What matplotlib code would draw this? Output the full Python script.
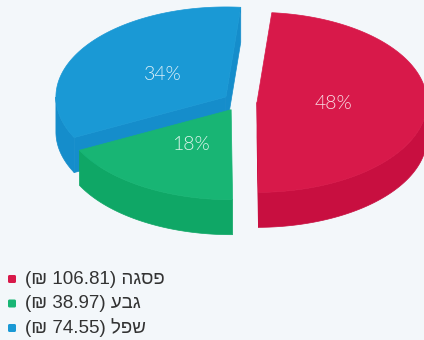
import numpy as np
import matplotlib
matplotlib.use("Agg")
import matplotlib.pyplot as plt
from matplotlib.patches import Polygon, FancyBboxPatch

# data
names = ["פסגה", "גבע", "שפל"]
values = [106.81, 38.97, 74.55]
currency = "₪"

# styling
top_colors = ["#d8194a", "#18b574", "#1a99d5"]
side_colors = ["#c80f40", "#0fa766", "#158dcb"]
bg = "#f3f7fa"

W, H = 424, 340
fig = plt.figure(figsize=(W / 100, H / 100), dpi=100)
fig.patch.set_facecolor(bg)
ax = fig.add_axes([0, 0, 1, 1])
ax.set_xlim(0, W)
ax.set_ylim(H, 0)
ax.axis("off")

# 3D pie geometry (pixels)
cx, cy = 240, 102
rx, ry = 170, 90
depth = 35
sliced_offset = 17
start_angle = 5.0
label_frac = 0.45

total = float(sum(values))
fracs = [v / total for v in values]


def rim(vx, vy, th_deg, dz=0.0):
    th = np.radians(th_deg)
    return np.column_stack([vx + rx * np.sin(th), vy - ry * np.cos(th) + dz])


slices = []
a = start_angle
for i, f in enumerate(fracs):
    a0, a1 = a, a + 360 * f
    m = np.radians((a0 + a1) / 2)
    vx = cx + sliced_offset * np.sin(m)
    vy = cy - sliced_offset * (ry / rx) * np.cos(m)
    slices.append((i, a0, a1, vx, vy))
    a = a1

# back to front
for i, a0, a1, vx, vy in sorted(slices, key=lambda s: s[4]):
    top_c, side_c = top_colors[i], side_colors[i]
    ths = np.linspace(a0, a1, 200)
    # outer rim facing the viewer
    lo, hi = max(a0, 90), min(a1, 270)
    if hi > lo:
        t = np.linspace(lo, hi, 120)
        poly = np.vstack([rim(vx, vy, t), rim(vx, vy, t[::-1], depth)])
        ax.add_patch(Polygon(poly, closed=True, fc=side_c, ec=side_c, lw=0.5, zorder=2))
    # radial faces
    for edge, visible in ((a0, np.sin(np.radians(a0)) < 0), (a1, np.sin(np.radians(a1)) > 0)):
        if visible:
            p = rim(vx, vy, [edge])[0]
            quad = [(vx, vy), p, (p[0], p[1] + depth), (vx, vy + depth)]
            ax.add_patch(Polygon(quad, closed=True, fc=side_c, ec=side_c, lw=0.5, zorder=2))
    # top face
    top = np.vstack([[vx, vy], rim(vx, vy, ths)])
    ax.add_patch(Polygon(top, closed=True, fc=top_c, ec=top_c, lw=0.5, zorder=2))

# percentage labels
for i, a0, a1, vx, vy in slices:
    m = np.radians((a0 + a1) / 2)
    lx = vx + label_frac * rx * np.sin(m)
    ly = vy - label_frac * ry * np.cos(m)
    ax.text(lx, ly, f"{round(fracs[i] * 100)}%", color="white", alpha=0.85,
            fontsize=14, fontweight=300, family=["Lato", "DejaVu Sans"],
            ha="center", va="center", zorder=5)

# legend
leg_x, leg_y0, leg_dy = 12, 279, 24.5
for i, (n, v) in enumerate(zip(names, values)):
    y = leg_y0 + i * leg_dy
    ax.add_patch(FancyBboxPatch((leg_x - 4, y - 4), 8, 8,
                                boxstyle="round,pad=0,rounding_size=1.5",
                                fc=top_colors[i], ec="none", zorder=4))
    label = f"({currency} {v:.2f}) " + n[::-1]
    ax.text(leg_x + 13, y, label, color="#333333", fontsize=13.5,
            family=["Liberation Sans", "DejaVu Sans"], ha="left", va="center", zorder=5)

fig.savefig("out.png", dpi=100, facecolor=bg)
